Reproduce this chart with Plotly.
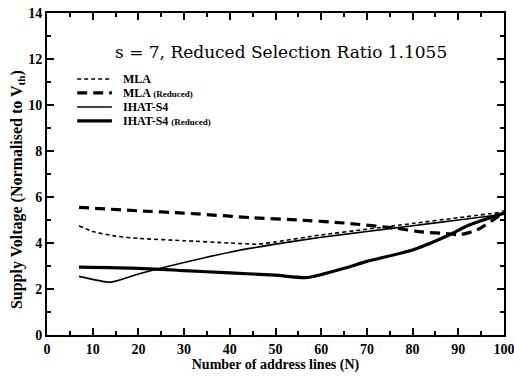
import plotly.graph_objects as go

# Data
mla_n = [7, 10, 15, 20, 30, 40, 46, 50, 60, 70, 80, 90, 100]
mla_v = [4.75, 4.5, 4.3, 4.2, 4.1, 4.0, 3.95, 4.05, 4.35, 4.6, 4.85, 5.1, 5.35]

mla_red_n = [7, 20, 30, 45, 55, 65, 76, 82, 88, 90, 94, 99, 100]
mla_red_v = [5.55, 5.4, 5.3, 5.1, 5.0, 4.87, 4.65, 4.48, 4.4, 4.35, 4.56, 5.2, 5.4]

ihat_n = [7, 14, 20, 30, 40, 50, 60, 70, 80, 90, 100]
ihat_v = [2.55, 2.3, 2.65, 3.15, 3.6, 3.95, 4.25, 4.5, 4.75, 5.0, 5.25]

ihat_red_n = [7, 20, 30, 40, 50, 57, 65, 70, 80, 88, 92, 100]
ihat_red_v = [2.95, 2.9, 2.8, 2.7, 2.6, 2.5, 2.9, 3.2, 3.7, 4.35, 4.75, 5.3]

x_ticks = [0, 10, 20, 30, 40, 50, 60, 70, 80, 90, 100]
y_ticks = [0, 2, 4, 6, 8, 10, 12, 14]

series_names = ["MLA", "MLA (Reduced)", "IHAT-S4", "IHAT-S4 (Reduced)"]
legend_labels = ["<b>MLA</b>",
                 "<b>MLA <span style='font-size:9px'>(Reduced)</span></b>",
                 "<b>IHAT-S4</b>",
                 "<b>IHAT-S4 <span style='font-size:9px'>(Reduced)</span></b>"]
line_styles = [dict(color="black", width=1.6, dash="4px,3px"),
               dict(color="black", width=3.2, dash="10px,6px"),
               dict(color="black", width=1.6),
               dict(color="black", width=3.2)]

font_family = "Liberation Serif"

fig = go.Figure()
for name, xs, ys, ls in zip(series_names,
                            [mla_n, mla_red_n, ihat_n, ihat_red_n],
                            [mla_v, mla_red_v, ihat_v, ihat_red_v],
                            line_styles):
    fig.add_trace(go.Scatter(x=xs, y=ys, mode="lines", name=name, showlegend=False,
                             line=dict(**ls, shape="spline", smoothing=0.6)))

# Manual compact legend (inside the plot, top-left)
legend_y = [0.795, 0.752, 0.708, 0.665]
for lbl, ls, ly in zip(legend_labels, line_styles, legend_y):
    fig.add_shape(type="line", xref="paper", yref="paper", x0=0.066, x1=0.142, y0=ly, y1=ly,
                  line=ls)
    fig.add_annotation(x=0.162, y=ly, xref="paper", yref="paper", text=lbl, showarrow=False,
                       xanchor="left", yanchor="middle",
                       font=dict(family=font_family, size=12, color="black"))

fig.add_annotation(x=0.513, y=0.915, xref="paper", yref="paper",
                   text="s = 7, Reduced Selection Ratio 1.1055", showarrow=False,
                   font=dict(family="DejaVu Serif", size=17, color="black"))

# Y axis title as annotation to place it close to the left edge
fig.add_annotation(x=-0.0656, y=0.45, xref="paper", yref="paper", textangle=-90,
                   text="<b>Supply Voltage (Normalised to V<sub>th</sub>)</b>", showarrow=False,
                   xanchor="center", yanchor="middle",
                   font=dict(family=font_family, size=16, color="black"))

axis_common = dict(showgrid=False, zeroline=False, showline=True, linecolor="black",
                   linewidth=2, mirror="allticks", ticks="inside", tickcolor="black",
                   tickwidth=1.5, ticklen=7, automargin=False, ticklabeloverflow="allow",
                   tickfont=dict(family=font_family, size=14, color="black"))

fig.update_xaxes(range=[0, 100], tickvals=x_ticks, ticktext=[f"<b>{t}</b>" for t in x_ticks],
                 minor=dict(dtick=5, ticks="inside", ticklen=4, tickcolor="black", tickwidth=1.5),
                 title=dict(text="<b>Number of address lines (N)</b>", standoff=0,
                            font=dict(family=font_family, size=14, color="black")),
                 **axis_common)
fig.update_yaxes(range=[0, 14], tickvals=y_ticks, ticktext=[f"<b>{t}</b>" for t in y_ticks],
                 minor=dict(dtick=1, ticks="inside", ticklen=4, tickcolor="black", tickwidth=1.5),
                 **axis_common)

fig.update_layout(
    width=514, height=379,
    margin=dict(l=47, r=10, t=13, b=44),
    paper_bgcolor="white", plot_bgcolor="white",
    showlegend=False,
)

# Remove the default page body margin so the figure fills the window exactly
fig.write_html("out.html", config={"displayModeBar": False},
               post_script="document.body.style.margin='0';")
